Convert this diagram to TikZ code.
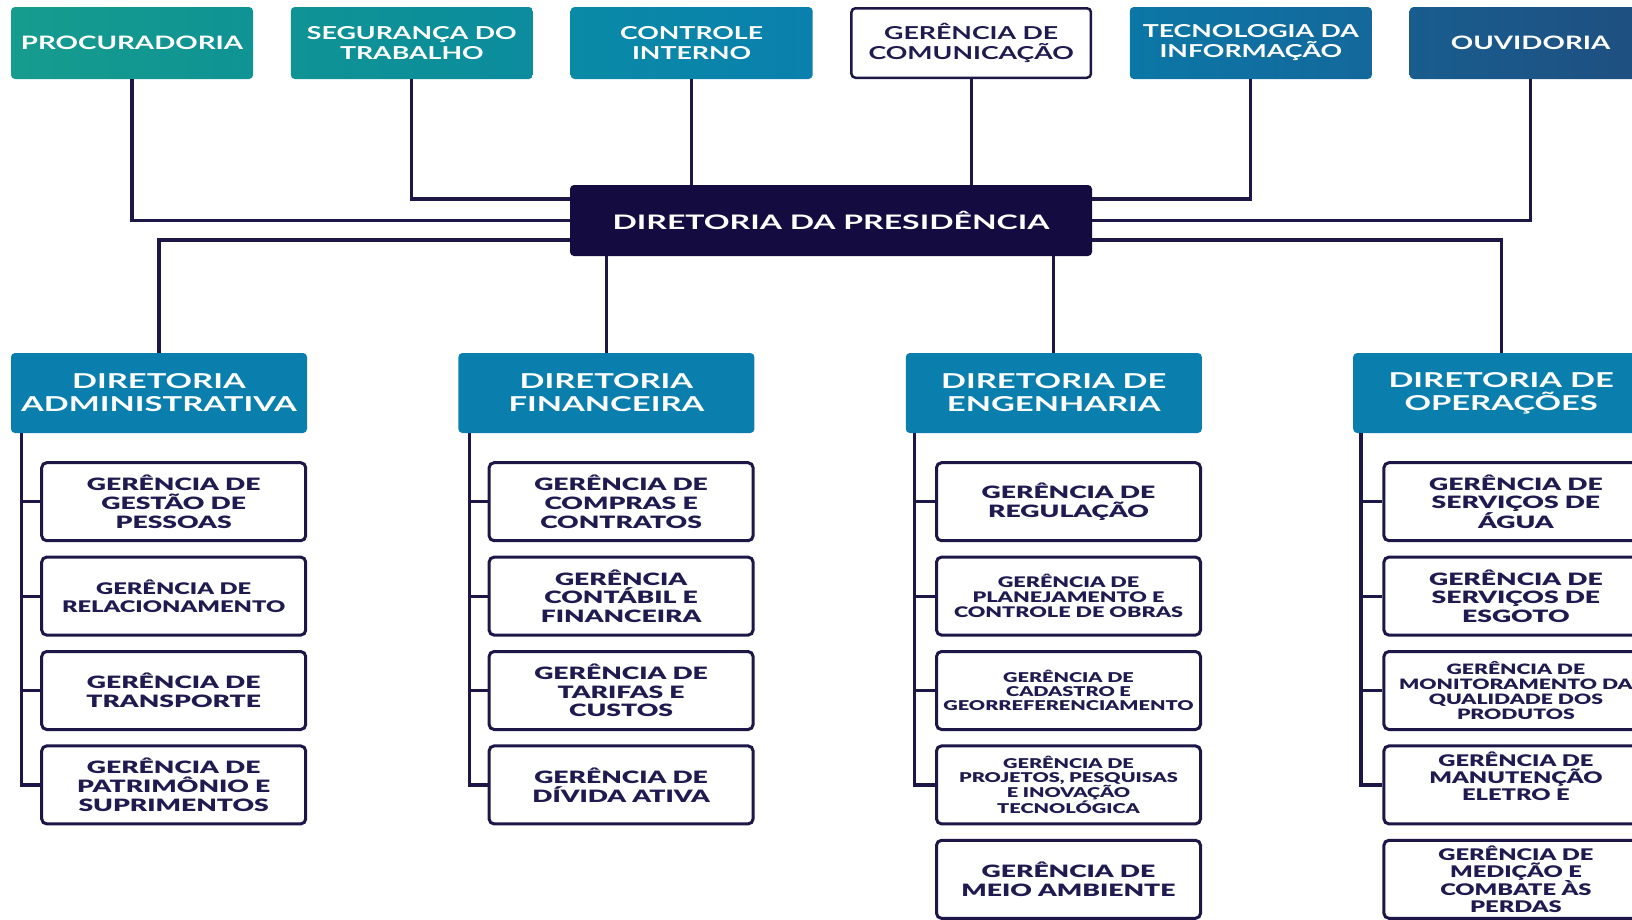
\documentclass[tikz,border=0pt]{standalone}
\usepackage{fontspec}
\setmainfont{Lato}[FakeStretch=1.5, BoldFont={Lato Bold}]
\newfontfamily\latowider{Lato}[FakeStretch=1.6, BoldFont={Lato Bold}]
\newfontfamily\latoblack{Lato Black}[FakeStretch=1.56]
\newfontfamily\latoblacknarrow{Lato Black}[FakeStretch=1.48]
\usepackage{tikz}
\usetikzlibrary{
	positioning
}

\definecolor{navy}{HTML}{140C40}
\definecolor{linecol}{HTML}{1C1747}
\definecolor{textnavy}{HTML}{1F1A50}
\definecolor{dirblue}{HTML}{0A7FAD}
\definecolor{tealA}{HTML}{169C8E}
\definecolor{tealB}{HTML}{0F9394}
\definecolor{tealC}{HTML}{0C8C9E}
\definecolor{blueA}{HTML}{0A8AA6}
\definecolor{blueB}{HTML}{0A80AE}
\definecolor{blueC}{HTML}{0B77A6}
\definecolor{blueD}{HTML}{14689B}
\definecolor{blueE}{HTML}{185D8E}
\definecolor{blueF}{HTML}{1F4F80}

\begin{document}
\begin{tikzpicture}[
		x=1pt, y=1pt,
		link/.style={draw=linecol, line width=3.2pt},
		topbox/.style={rounded corners=4pt, minimum width=242pt, minimum height=72pt,
			inner sep=0pt, align=center, text=white,
			font=\bfseries\fontsize{17.8}{20}\selectfont},
		presbox/.style={fill=navy, rounded corners=4pt, minimum width=522pt, minimum height=71pt,
			inner sep=0pt, text=white, font=\latowider\bfseries\fontsize{20}{22}\selectfont},
		dirbox/.style={fill=dirblue, rounded corners=4pt, minimum width=296pt, minimum height=80pt,
			inner sep=0pt, align=center, text=white,
			font=\latowider\bfseries\fontsize{20.5}{23}\selectfont},
		gerbox/.style={draw=linecol, line width=3pt, fill=white, rounded corners=5pt,
			minimum width=264pt, minimum height=78pt, inner sep=0pt, align=center,
			text=textnavy, font=\latoblack\fontsize{17}{18.7}\selectfont},
		gersmall/.style={gerbox, font=\latoblacknarrow\fontsize{13.5}{14}\selectfont},
		germid/.style={gerbox, font=\latoblacknarrow\fontsize{16}{17.2}\selectfont}
	]
	\clip (0,0) rectangle (1632,-919);

	\draw
		% orgaos ligados a presidencia
		node[topbox, left color=tealA, right color=tealB] at (132,-43) (proc) {\fontsize{18.5}{20}\selectfont PROCURADORIA}
		node[topbox, left color=tealB, right color=tealC, right=37.4pt of proc] (seg) {SEGURANÇA DO\\TRABALHO}
		node[topbox, left color=blueA, right color=blueB, right=37.4pt of seg] (ctrl) {CONTROLE\\INTERNO}
		node[topbox, fill=white, draw=linecol, line width=2.5pt, minimum width=239.5pt, minimum height=69.5pt,
			text=textnavy, right=37.4pt of ctrl] (com) {GERÊNCIA DE\\COMUNICAÇÃO}
		node[topbox, left color=blueC, right color=blueD, right=37.4pt of com] (tec) {TECNOLOGIA DA\\INFORMAÇÃO}
		node[topbox, left color=blueE, right color=blueF, right=37.4pt of tec] (ouv) {\fontsize{18.5}{20}\selectfont OUVIDORIA}

		node[presbox] at (831,-220.5) (pres) {DIRETORIA DA PRESIDÊNCIA}

		% diretorias
		node[dirbox] at (159,-393) (adm) {DIRETORIA\\ADMINISTRATIVA}
		node[dirbox, right=151pt of adm] (fin) {DIRETORIA\\FINANCEIRA}
		node[dirbox, right=151pt of fin] (eng) {DIRETORIA DE\\ENGENHARIA}
		node[dirbox, right=151pt of eng] (ope) {DIRETORIA DE\\OPERAÇÕES}

		% administrativa
		node[gerbox, below left=28pt and 0pt of adm.south east] (ga1) {GERÊNCIA DE\\GESTÃO DE\\PESSOAS}
		node[gerbox, below=13.4pt of ga1, font=\latoblacknarrow\fontsize{16}{17.7}\selectfont] (ga2) {GERÊNCIA DE\\RELACIONAMENTO}
		node[gerbox, below=13.4pt of ga2] (ga3) {GERÊNCIA DE\\TRANSPORTE}
		node[gerbox, below=13.4pt of ga3] (ga4) {GERÊNCIA DE\\PATRIMÔNIO E\\SUPRIMENTOS}

		% financeira
		node[gerbox, below left=28pt and 0pt of fin.south east] (gf1) {GERÊNCIA DE\\COMPRAS E\\CONTRATOS}
		node[gerbox, below=13.4pt of gf1] (gf2) {GERÊNCIA\\CONTÁBIL E\\FINANCEIRA}
		node[gerbox, below=13.4pt of gf2] (gf3) {GERÊNCIA DE\\TARIFAS E\\CUSTOS}
		node[gerbox, below=13.4pt of gf3] (gf4) {GERÊNCIA DE\\DÍVIDA ATIVA}

		% engenharia
		node[gerbox, below left=28pt and 0pt of eng.south east] (ge1) {GERÊNCIA DE\\REGULAÇÃO}
		node[gerbox, below=13.4pt of ge1, font=\latoblacknarrow\fontsize{14.6}{15}\selectfont] (ge2) {GERÊNCIA DE\\PLANEJAMENTO E\\CONTROLE DE OBRAS}
		node[gersmall, below=13.4pt of ge2] (ge3) {GERÊNCIA DE\\CADASTRO E\\GEORREFERENCIAMENTO}
		node[gersmall, below=13.4pt of ge3] (ge4) {GERÊNCIA DE\\PROJETOS, PESQUISAS\\E INOVAÇÃO\\TECNOLÓGICA}
		node[gerbox, below=13.4pt of ge4] (ge5) {GERÊNCIA DE\\MEIO AMBIENTE}

		% operacoes
		node[gerbox, below left=28pt and 0pt of ope.south east] (go1) {GERÊNCIA DE\\SERVIÇOS DE\\ÁGUA}
		node[gerbox, below=13.4pt of go1] (go2) {GERÊNCIA DE\\SERVIÇOS DE\\ESGOTO}
		node[gerbox, below=13.4pt of go2, font=\latoblacknarrow\fontsize{14.3}{15.3}\selectfont] (go3) {GERÊNCIA DE\\MONITORAMENTO DA\\QUALIDADE DOS\\PRODUTOS}
		node[germid, below=13.4pt of go3] (go4) {GERÊNCIA DE\\MANUTENÇÃO\\ELETRO E\\\mbox{}}
		node[germid, below=13.4pt of go4, font=\latoblacknarrow\fontsize{16}{16.7}\selectfont] (go5) {GERÊNCIA DE\\MEDIÇÃO E\\COMBATE ÀS\\PERDAS}
	;

	% ligacoes do topo
	\draw[link] (proc.south) |- (pres.west);
	\draw[link] (seg.south) |- ([yshift=21.5pt]pres.west);
	\draw[link] (ctrl.south) -- (ctrl.south |- pres.north);
	\draw[link] (com.south) -- (com.south |- pres.north);
	\draw[link] (tec.south) |- ([yshift=21.5pt]pres.east);
	\draw[link] (ouv.south) |- (pres.east);

	% ligacoes das diretorias
	\draw[link] ([yshift=-19.5pt]pres.west) -| (adm.north);
	\draw[link] ([yshift=-19.5pt]pres.east) -| (ope.north);
	\draw[link] (fin.north |- pres.south) -- (fin.north);
	\draw[link] (eng.north |- pres.south) -- (eng.north);

	% troncos das gerencias
	\coordinate (admT) at ([xshift=11pt]adm.south west);
	\coordinate (finT) at ([xshift=11pt]fin.south west);
	\coordinate (engT) at ([xshift=9pt]eng.south west);
	\coordinate (opeT) at ([xshift=8pt]ope.south west);
	\draw[link] (admT) |- (ga4.west) (admT |- ga1.west) -- (ga1.west)
		(admT |- ga2.west) -- (ga2.west) (admT |- ga3.west) -- (ga3.west);
	\draw[link] (finT) |- (gf4.west) (finT |- gf1.west) -- (gf1.west)
		(finT |- gf2.west) -- (gf2.west) (finT |- gf3.west) -- (gf3.west);
	\draw[link] (engT) |- (ge4.west) (engT |- ge1.west) -- (ge1.west)
		(engT |- ge2.west) -- (ge2.west) (engT |- ge3.west) -- (ge3.west);
	\draw[link] (opeT) |- (go4.west) (opeT |- go1.west) -- (go1.west)
		(opeT |- go2.west) -- (go2.west) (opeT |- go3.west) -- (go3.west);
\end{tikzpicture}
\end{document}
